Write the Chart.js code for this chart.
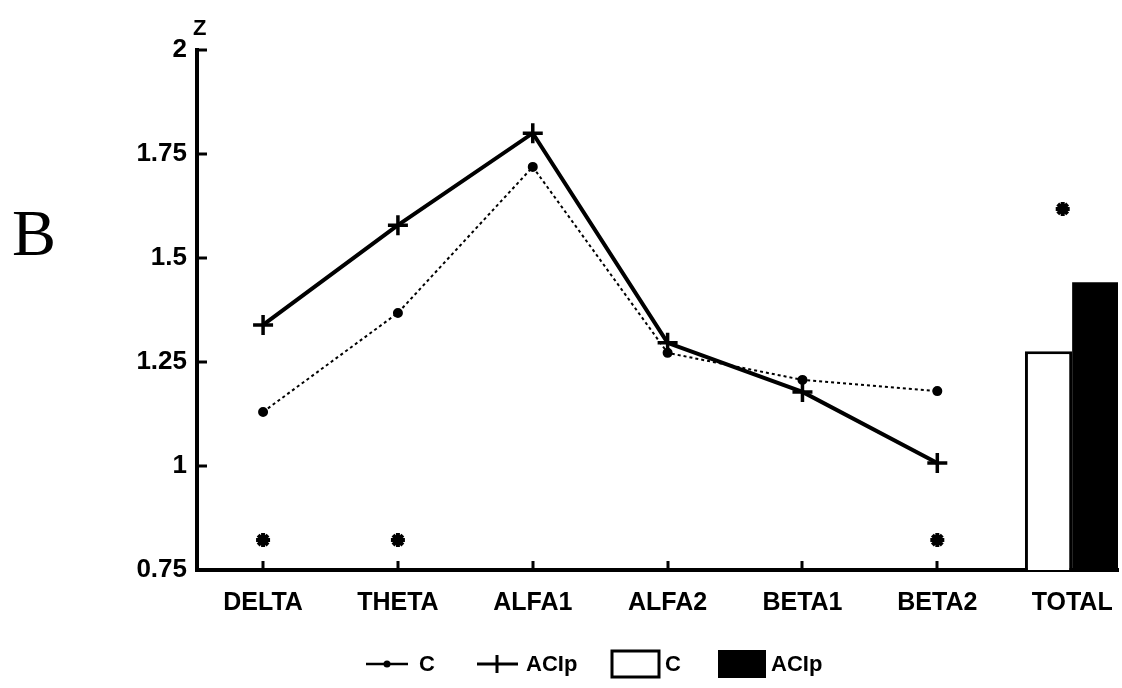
<!DOCTYPE html>
<html><head><meta charset="utf-8">
<script src="https://cdn.jsdelivr.net/npm/chart.js@4"></script>
<style>html,body{margin:0;padding:0;background:#fff}</style>
</head><body>
<canvas id="c" width="1122" height="688"></canvas>
<script>
const categories = ['DELTA','THETA','ALFA1','ALFA2','BETA1','BETA2','TOTAL'];
const yTicks = [0.75, 1, 1.25, 1.5, 1.75, 2];
const seriesC = [1.130, 1.368, 1.719, 1.272, 1.207, 1.180];
const seriesACIp = [1.339, 1.579, 1.800, 1.296, 1.178, 1.007];
const totalC = [1.276];
const totalACIp = [1.442];
const sigX = [0, 1, 5, 5.93];
const sigY = [0.822, 0.822, 0.822, 1.618];
const seriesNames = ['C', 'ACIp'];

const FONT = "'Liberation Sans', Arial, sans-serif";
const totalIndex = categories.indexOf('TOTAL');

const decor = {
  id: 'decor',
  afterDraw(chart) {
    const ctx = chart.ctx, x = chart.scales.x, y = chart.scales.y, a = chart.chartArea;
    ctx.save();
    ctx.strokeStyle = '#000'; ctx.lineWidth = 3;
    yTicks.forEach(v => {
      const py = Math.round(y.getPixelForValue(v));
      ctx.beginPath(); ctx.moveTo(a.left, py); ctx.lineTo(a.left + 10, py); ctx.stroke();
    });
    for (let i = 0; i < totalIndex; i++) {
      const px = Math.round(x.getPixelForValue(i));
      ctx.beginPath(); ctx.moveTo(px, a.bottom); ctx.lineTo(px, a.bottom - 9); ctx.stroke();
    }
    ctx.fillStyle = '#000';
    ctx.textBaseline = 'alphabetic'; ctx.textAlign = 'left';
    ctx.font = "66px 'Liberation Serif', 'DejaVu Serif', serif";
    ctx.fillText('B', 12, 255);
    ctx.font = "bold 22px " + FONT;
    ctx.fillText('Z', 193, 35);
    const ly = 664;
    ctx.font = "bold 22px " + FONT;
    ctx.textBaseline = 'middle';
    ctx.lineWidth = 2.5;
    ctx.beginPath(); ctx.moveTo(366, ly); ctx.lineTo(408, ly); ctx.stroke();
    ctx.beginPath(); ctx.arc(387, ly, 3.5, 0, Math.PI * 2); ctx.fill();
    ctx.fillText(seriesNames[0], 419, ly + 1);
    ctx.lineWidth = 3;
    ctx.beginPath(); ctx.moveTo(477, ly); ctx.lineTo(518, ly); ctx.stroke();
    ctx.beginPath(); ctx.moveTo(497, ly - 9); ctx.lineTo(497, ly + 9); ctx.stroke();
    ctx.fillText(seriesNames[1], 526, ly + 1);
    ctx.lineWidth = 3;
    ctx.fillStyle = '#fff';
    ctx.fillRect(612, 651, 47, 26); ctx.strokeRect(612, 651, 47, 26);
    ctx.fillStyle = '#000';
    ctx.fillText(seriesNames[0], 665, ly + 1);
    ctx.fillRect(718, 650, 48, 28);
    ctx.fillText(seriesNames[1], 771, ly + 1);
    ctx.restore();
  }
};

new Chart(document.getElementById('c'), {
  type: 'bar',
  data: {
    datasets: [
      {
        type: 'line', label: seriesNames[0],
        data: seriesC.map((v, i) => ({x: i, y: v})),
        borderColor: '#000', borderWidth: 2, borderDash: [3, 3],
        pointStyle: 'circle', pointRadius: 4, pointBackgroundColor: '#000', pointBorderColor: '#000',
        fill: false, tension: 0
      },
      {
        type: 'line', label: seriesNames[1],
        data: seriesACIp.map((v, i) => ({x: i, y: v})),
        borderColor: '#000', borderWidth: 4,
        pointStyle: 'cross', pointRadius: 10, pointBorderWidth: 3.5, pointBorderColor: '#000',
        fill: false, tension: 0
      },
      {
        type: 'bar', label: seriesNames[0],
        data: totalC.map(v => ({x: totalIndex, y: v})),
        backgroundColor: '#fff', borderColor: '#000', borderWidth: 3, borderSkipped: 'bottom',
        base: yTicks[0], barPercentage: 1, categoryPercentage: 0.70
      },
      {
        type: 'bar', label: seriesNames[1],
        data: totalACIp.map(v => ({x: totalIndex, y: v})),
        backgroundColor: '#000', borderColor: '#000', borderWidth: 0,
        base: yTicks[0], barPercentage: 1, categoryPercentage: 0.70
      },
      {
        type: 'line', label: 'sig',
        data: sigX.map((v, i) => ({x: v, y: sigY[i]})),
        showLine: false, pointStyle: 'star', pointRadius: 7, pointBorderWidth: 4,
        pointBorderColor: '#000', pointBackgroundColor: '#000'
      }
    ]
  },
  options: {
    responsive: false, animation: false,
    layout: {autoPadding: false, padding: {top: 50, left: 0, right: 4, bottom: 68}},
    plugins: {legend: {display: false}, tooltip: {enabled: false}},
    scales: {
      x: {
        type: 'linear', min: -0.49, max: 6.34, offset: false,
        afterBuildTicks: s => { s.ticks = categories.map((c, i) => ({value: i})); },
        afterFit: s => { s.height = 50; s.paddingRight = 0; s.paddingLeft = 0; },
        ticks: {callback: v => categories[v] ?? '', color: '#000', padding: 18, maxRotation: 0, autoSkip: false,
                font: {family: FONT, size: 25, weight: 'bold'}},
        grid: {display: false, drawTicks: false, offset: false},
        border: {display: true, color: '#000', width: 4}
      },
      y: {
        min: yTicks[0], max: yTicks[yTicks.length - 1],
        afterBuildTicks: s => { s.ticks = yTicks.map(v => ({value: v})); },
        afterFit: s => { s.width = 197; },
        ticks: {callback: v => String(v), color: '#000', padding: 10,
                font: {family: FONT, size: 26, weight: 'bold'}},
        grid: {display: false, drawTicks: false},
        border: {display: true, color: '#000', width: 4}
      }
    }
  },
  plugins: [decor]
});
</script>
</body></html>
